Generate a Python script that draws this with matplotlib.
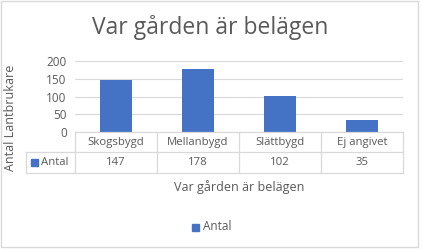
import matplotlib.pyplot as plt
from matplotlib.patches import Rectangle
from matplotlib.lines import Line2D

categories = ['Skogsbygd', 'Mellanbygd', 'Slättbygd', 'Ej angivet']
antal = [147, 178, 102, 35]
yticks = [0, 50, 100, 150, 200]

plt.rcParams['font.family'] = ['Open Sans', 'DejaVu Sans']
W, H = 423, 252
blue = '#4472C4'
grey_txt = '#595959'
line_c = '#D9D9D9'

fig = plt.figure(figsize=(W / 100, H / 100), dpi=100)

def fx(px):
    return px / W

def fy(py):
    return 1 - py / H

# outer border
fig.patches.append(Rectangle((fx(1), fy(247)), fx(418) - fx(1), fy(1) - fy(247),
                             transform=fig.transFigure, fill=False, ec=line_c, lw=1))

x0, x1, ytop, y0 = 75, 403, 61, 132
ax = fig.add_axes([fx(x0), fy(y0), fx(x1) - fx(x0), fy(ytop) - fy(y0)])
xs = range(len(categories))
ax.bar(xs, antal, width=0.4, color=blue, zorder=3)
ax.set_xlim(-0.5, len(categories) - 0.5)
ax.set_ylim(0, 200)
ax.set_yticks(yticks)
ax.set_yticklabels([str(v) for v in yticks], fontsize=8.5, color=grey_txt)
ax.set_xticks([])
ax.grid(axis='y', color=line_c, lw=0.8, zorder=0)
for s in ax.spines.values():
    s.set_visible(False)
ax.tick_params(axis='y', length=0, pad=6)

fig.text(fx(210), fy(27), 'Var gården är belägen', ha='center', va='center',
         fontsize=16.5, color=grey_txt)

# data table under the axis
r1, r2, r3 = 132, 152, 173
colw = (x1 - x0) / len(categories)
lines = [((x0, x1), (r1, r1)), ((26, x1), (r2, r2)), ((26, x1), (r3, r3)),
         ((26, 26), (r2, r3))]
for i in range(len(categories) + 1):
    lines.append(((x0 + i * colw, x0 + i * colw), (r1, r3)))
for (xa, xb), (ya, yb) in lines:
    fig.add_artist(Line2D([fx(xa), fx(xb)], [fy(ya), fy(yb)], color=line_c, lw=0.9))
for i, (c, v) in enumerate(zip(categories, antal)):
    cx = x0 + (i + 0.5) * colw
    fig.text(fx(cx), fy((r1 + r2) / 2), c, ha='center', va='center', fontsize=8.2, color=grey_txt)
    fig.text(fx(cx), fy((r2 + r3) / 2), str(v), ha='center', va='center', fontsize=8.2, color=grey_txt)
fig.patches.append(Rectangle((fx(31), fy(166)), fx(7), 7 / H,
                             transform=fig.transFigure, color=blue))
fig.text(fx(41), fy((r2 + r3) / 2), 'Antal', ha='left', va='center', fontsize=8.2, color=grey_txt)

fig.text(fx(239), fy(187), 'Var gården är belägen', ha='center', va='center',
         fontsize=9, color=grey_txt)
fig.text(fx(11), fy(118), 'Antal Lantbrukare', ha='center', va='center',
         rotation=90, fontsize=9, color=grey_txt)

# legend
fig.patches.append(Rectangle((fx(192), fy(231)), fx(7), 7 / H,
                             transform=fig.transFigure, color=blue))
fig.text(fx(203), fy(227), 'Antal', ha='left', va='center', fontsize=8.5, color=grey_txt)

fig.savefig('out.png', dpi=100)
